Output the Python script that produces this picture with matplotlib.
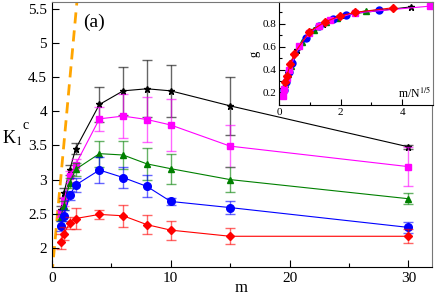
import matplotlib
matplotlib.use("Agg")
import matplotlib.pyplot as plt

plt.rcParams['font.family'] = ['Liberation Serif', 'DejaVu Serif']
plt.rcParams['mathtext.fontset'] = 'stix'

## main panel: K_1^c vs m
m = [0.75, 1, 1.5, 2, 4, 6, 8, 10, 15, 30]

k_black = [2.55, 2.80, 3.14, 3.45, 4.10, 4.30, 4.33, 4.30, 4.08, 3.48]
e_black = [0.06, 0.07, 0.08, 0.08, 0.26, 0.35, 0.42, 0.38, 0.42, 0.03]
k_mag = [2.50, 2.68, 3.05, 3.22, 3.89, 3.93, 3.88, 3.80, 3.49, 3.19]
e_mag = [0.05, 0.06, 0.08, 0.08, 0.18, 0.32, 0.33, 0.38, 0.31, 0.29]
k_green = [2.45, 2.62, 2.95, 3.15, 3.38, 3.36, 3.23, 3.16, 3.00, 2.72]
e_green = [0.05, 0.07, 0.08, 0.1, 0.19, 0.2, 0.24, 0.22, 0.18, 0.08]
k_blue = [2.32, 2.47, 2.77, 2.92, 3.14, 3.03, 2.90, 2.68, 2.59, 2.30]
e_blue = [0.08, 0.08, 0.07, 0.1, 0.19, 0.16, 0.16, 0.045, 0.1, 0.08]
k_red = [2.09, 2.21, 2.36, 2.43, 2.49, 2.47, 2.34, 2.26, 2.17, 2.17]
e_red = [0.11, 0.1, 0.085, 0.15, 0.066, 0.16, 0.14, 0.14, 0.12, 0.1]

# dashed bound
m_line = [0.0, 2.3]
k_line = [1.6, 1.6 + 1.9 * 2.3]

## inset: g vs m/N^(1/5)
x_black = [0.11, 0.14, 0.21, 0.29, 0.57, 0.86, 1.14, 1.43, 2.14, 4.29]
g_black = [0.19, 0.23, 0.30, 0.37, 0.57, 0.68, 0.75, 0.80, 0.88, 0.948]
x_mag = [0.12, 0.16, 0.25, 0.33, 0.66, 0.98, 1.31, 1.64, 2.46, 4.92]
g_mag = [0.17, 0.23, 0.33, 0.40, 0.61, 0.72, 0.78, 0.83, 0.895, 0.955]
x_green = [0.14, 0.19, 0.28, 0.38, 0.75, 1.13, 1.51, 1.89, 2.83]
g_green = [0.21, 0.27, 0.36, 0.43, 0.64, 0.75, 0.815, 0.855, 0.915]
x_blue = [0.16, 0.22, 0.33, 0.43, 0.87, 1.30, 1.74, 2.17, 3.26]
g_blue = [0.22, 0.29, 0.38, 0.46, 0.68, 0.78, 0.84, 0.88, 0.925]
x_red = [0.185, 0.246, 0.37, 0.49, 0.985, 1.48, 1.97, 2.46, 3.69]
g_red = [0.29, 0.34, 0.45, 0.54, 0.73, 0.815, 0.868, 0.90, 0.94]

fig = plt.figure(figsize=(4.36, 2.96), dpi=100)
ax = fig.add_axes([0.119, 0.098, 0.872, 0.895])

ax.plot(m_line, k_line, '--', color='#ffa500', lw=2, dashes=(4, 2.5), zorder=1)

series = [
    (k_black, e_black, 'black', '*', 5),
    (k_mag, e_mag, 'magenta', 's', 5),
    (k_green, e_green, 'green', '^', 5),
    (k_blue, e_blue, 'blue', 'o', 5.5),
    (k_red, e_red, 'red', 'D', 4),
]
for k, e, c, mk, ms in series:
    ax.errorbar(m, k, yerr=e, fmt='none', ecolor=c, elinewidth=1,
                capsize=3.3, capthick=1, alpha=0.6)
    ax.plot(m, k, color=c, marker=mk, ms=ms, lw=0.8)

ax.set_xlim(0, 32)
ax.set_ylim(1.72, 5.6)
ax.set_xticks([0, 10, 20, 30])
ax.set_xticks([5, 15, 25], minor=True)
ax.set_yticks([2, 2.5, 3, 3.5, 4, 4.5, 5, 5.5])
ax.set_yticklabels(['2', '2.5', '3', '3.5', '4', '4.5', '5', '5.5'])
ax.tick_params(direction='in', labelsize=11, length=5, width=0.8)
ax.tick_params(which='minor', direction='in', length=3, width=0.8)
ax.spines['top'].set_color('#777777')
ax.spines['right'].set_color('#777777')
fig.text(0.553, 0.012, 'm', fontsize=12, ha='center')
fig.text(0.005, 0.515, r'K$_1$', fontsize=13)
fig.text(0.052, 0.565, 'c', fontsize=10)
ax.text(2.6, 5.31, '(a)', fontsize=14, va='center')

## inset
ins = fig.add_axes([0.640, 0.645, 0.353, 0.348])
for xs, gs, c, mk, ms in [(x_black, g_black, 'black', '*', 5),
                          (x_green, g_green, 'green', '^', 5),
                          (x_blue, g_blue, 'blue', 'o', 5),
                          (x_mag, g_mag, 'magenta', 's', 5),
                          (x_red, g_red, 'red', 'D', 4)]:
    ins.plot(xs, gs, color=c, marker=mk, ms=ms, lw=0.8)
ins.set_xlim(0, 5)
ins.set_ylim(0.09, 0.99)
ins.set_xticks([0, 2, 4])
ins.set_xticks([1, 3], minor=True)
ins.set_yticks([0.2, 0.4, 0.6, 0.8])
ins.set_yticks([0.3, 0.5, 0.7, 0.9], minor=True)
ins.tick_params(direction='in', labelsize=8, length=4, width=0.8, pad=2)
ins.tick_params(which='minor', direction='in', length=2, width=0.8)
ins.spines['top'].set_color('#777777')
ins.spines['right'].set_color('#777777')
ins.set_ylabel('g', fontsize=9, labelpad=1)
ins.text(4.95, 0.16, r'm/N$^{1/5}$', fontsize=8.5, ha='right')

fig.savefig('out.png', dpi=100)
